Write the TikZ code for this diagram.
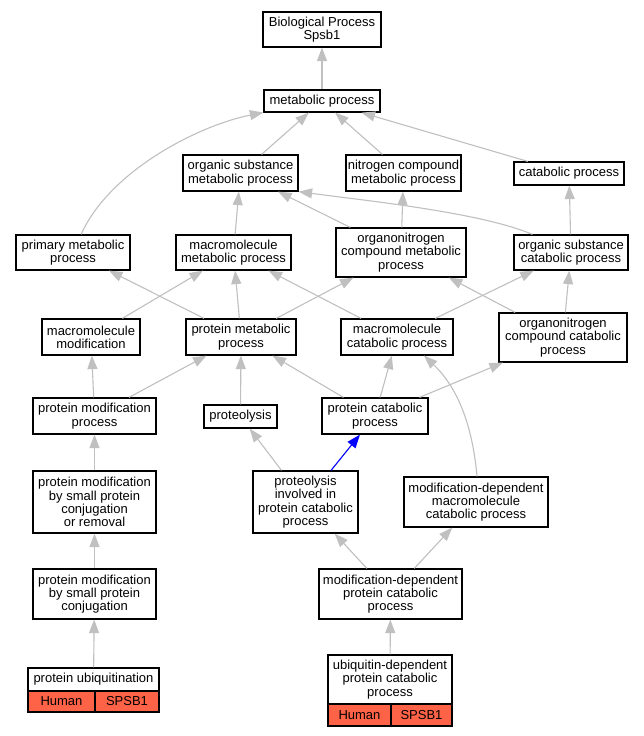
\documentclass[tikz,border=0pt]{standalone}
\usepackage{fontspec}
\setmainfont{Liberation Sans}
\usetikzlibrary{arrows.meta}
\definecolor{edgegray}{HTML}{C0C0C0}
\definecolor{tomatored}{HTML}{FF6347}
\tikzset{
  box/.style={draw=black, line width=1.2pt, fill=white, inner sep=0pt, align=center,
    font=\fontsize{13}{13.3}\selectfont},
  cellbox/.style={box, fill=tomatored},
  edge/.style={draw=edgegray, line width=1.1pt, -{Triangle[length=13.5pt,width=10pt]}},
  hitedge/.style={edge, draw=blue},
}
\newcommand{\bx}[6]{\node[box, minimum width={#3-#2}, minimum height={#5-#4}] (#1) at ({(#2+#3)/2},{(#4+#5)/2}) {#6};}
\newcommand{\cx}[6]{\node[cellbox, minimum width={#3-#2}, minimum height={#5-#4}] (#1) at ({(#2+#3)/2},{(#4+#5)/2}) {#6};}
\begin{document}
\begin{tikzpicture}[x=1pt,y=-1pt]
\fill[white] (0,0) rectangle (644,736);
\useasboundingbox (0,0) rectangle (644,736);
\bx{bp}{263}{381}{12}{47}{Biological Process\\Spsb1}
\bx{mp}{264}{380}{90}{112}{metabolic process}
\bx{ostm}{183}{298}{155}{191}{organic substance\\metabolic process}
\bx{ncm}{346}{461}{155}{191}{nitrogen compound\\metabolic process}
\bx{cp}{514}{624}{162}{185}{catabolic process}
\bx{pm}{16}{130}{235}{270}{primary metabolic\\process}
\bx{mmm}{176}{291}{235}{270}{macromolecule\\metabolic process}
\bx{oncm}{336}{466}{228}{277}{organonitrogen\\compound metabolic\\process}
\bx{osc}{514}{628}{235}{270}{organic substance\\catabolic process}
\bx{mm}{42}{140}{319}{355}{macromolecule\\modification}
\bx{prm}{186}{296}{319}{355}{protein metabolic\\process}
\bx{mc}{341}{453}{319}{355}{macromolecule\\catabolic process}
\bx{oncc}{499}{627}{313}{362}{organonitrogen\\compound catabolic\\process}
\bx{pmp}{33}{156}{398}{434}{protein modification\\process}
\bx{prot}{204}{277}{405}{428}{proteolysis}
\bx{pc}{322}{428}{398}{434}{protein catabolic\\process}
\bx{pmsr}{33}{156}{471}{533}{protein modification\\by small protein\\conjugation\\or removal}
\bx{pipc}{253}{358}{471}{533}{proteolysis\\involved in\\protein catabolic\\process}
\bx{mdmc}{404}{548}{477}{527}{modification-dependent\\macromolecule\\catabolic process}
\bx{pms}{33}{156}{569}{619}{protein modification\\by small protein\\conjugation}
\bx{mdpc}{319}{462}{569}{619}{modification-dependent\\protein catabolic\\process}
\bx{pu}{28}{159}{668}{691}{protein ubiquitination}
\cx{puh}{28}{95}{691}{712}{Human}
\cx{pus}{95}{159}{691}{712}{SPSB1}
\bx{ud}{328}{452}{655}{704}{ubiquitin-dependent\\protein catabolic\\process}
\cx{udh}{328}{391}{704}{726}{Human}
\cx{uds}{391}{452}{704}{726}{SPSB1}
% edges
\draw[edge] (mp) -- (bp);
\draw[edge] (ostm) -- (mp);
\draw[edge] (ncm) -- (mp);
\draw[edge] (cp) -- (mp);
\draw[edge] (pm) .. controls (110,170) and (200,125) .. (mp);
\draw[edge] (mmm) -- (ostm);
\draw[edge] (oncm) -- (ostm);
\draw[edge] (oncm) -- (ncm);
\draw[edge] ([xshift=19pt]osc.north west) .. controls (480,212) and (360,200) .. (ostm.south east);
\draw[edge] (osc) -- (cp);
\draw[edge] (mm) -- (mmm);
\draw[edge] (prm) -- (pm);
\draw[edge] (prm) -- (mmm);
\draw[edge] (prm) -- (oncm);
\draw[edge] (mc) -- (mmm);
\draw[edge] (mc) -- (osc);
\draw[edge] (oncc) -- (oncm);
\draw[edge] (oncc) -- (osc);
\draw[edge] (pmp) -- (mm);
\draw[edge] (pmp) -- (prm);
\draw[edge] (prot) -- (prm);
\draw[edge] (pc) -- (prm);
\draw[edge] (pc) -- (mc);
\draw[edge] (pc) -- (oncc);
\draw[edge] ([xshift=1pt]mdmc.north) .. controls (472,420) and (455,385) .. ([xshift=27pt]mc.south);
\draw[edge] (pmsr) -- (pmp);
\draw[edge] (pipc) -- (prot);
\draw[hitedge] (pipc) -- (pc);
\draw[edge] (pms) -- (pmsr);
\draw[edge] (mdpc) -- (pipc);
\draw[edge] (mdpc) -- (mdmc);
\draw[edge] (pu) -- (pms);
\draw[edge] (ud) -- (mdpc);
\end{tikzpicture}
\end{document}
